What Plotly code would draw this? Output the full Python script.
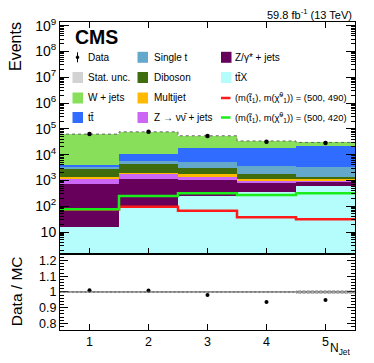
import numpy as np
import plotly.graph_objects as go
from plotly.subplots import make_subplots

# --- values ---
njet = [1, 2, 3, 4, 5]
data = [63000, 77000, 52600, 31600, 28200]

ttx = [16, 89, 240, 363, 620]
zgamma = [691, 1011, 795, 487, 270]
znunu = [493, 680, 445, 130, 120]
multijet = [190, 220, 240, 150, 90]
diboson = [1460, 2170, 1380, 610, 290]
single_t = [460, 1430, 2170, 1990, 2010]
ttbar = [760, 4900, 12030, 14870, 18700]
wjets = [58230, 65800, 36330, 15160, 7600]

sig_490 = [74, 96, 66, 37, 31]
sig_420 = [76, 248, 317, 270, 317]

stat_unc = [0.006, 0.006, 0.006, 0.006, 0.012]

ytick_vals = [10, 1e2, 1e3, 1e4, 1e5, 1e6, 1e7, 1e8, 1e9]
ytick_text = ["10", "10<sup>2</sup>", "10<sup>3</sup>", "10<sup>4</sup>", "10<sup>5</sup>",
              "10<sup>6</sup>", "10<sup>7</sup>", "10<sup>8</sup>", "10<sup>9</sup>"]
rtick_vals = [0.8, 0.9, 1.0, 1.1, 1.2]
rtick_text = ["0.8", "0.9", "1", "1.1", "1.2"]

FONT = "Liberation Sans, Arial, Helvetica, sans-serif"

stack = [
    ("ttX", ttx, "#b5fcfc"),
    ("Z/gamma", zgamma, "#67005a"),
    ("Znunu", znunu, "#cc66f5"),
    ("Multijet", multijet, "#ffba00"),
    ("Diboson", diboson, "#3f6d0e"),
    ("Single t", single_t, "#64a8cc"),
    ("ttbar", ttbar, "#2f6cff"),
    ("W+jets", wjets, "#88e05a"),
]

total = np.sum([s[1] for s in stack], axis=0)
ratio = np.array(data) / total
edges = [n - 0.5 for n in njet] + [njet[-1] + 0.5]

def step(vals):
    return list(vals) + [vals[-1]]

fig = make_subplots(rows=2, cols=1, shared_xaxes=True, vertical_spacing=0,
                    row_heights=[0.753, 0.247])

for name, vals, col in stack:
    fig.add_trace(go.Bar(x=njet, y=vals, width=1, marker_color=col,
                         marker_line_width=0, name=name, showlegend=False), row=1, col=1)

fig.add_trace(go.Scatter(x=edges, y=step(total), mode="lines", line_shape="hv",
                         line=dict(color="#666666", width=1, dash="dot"),
                         showlegend=False), row=1, col=1)

fig.add_trace(go.Scatter(x=edges, y=step(sig_490), mode="lines", line_shape="hv",
                         line=dict(color="#ff1a1a", width=2.5), showlegend=False), row=1, col=1)
fig.add_trace(go.Scatter(x=edges, y=step(sig_420), mode="lines", line_shape="hv",
                         line=dict(color="#1aee1a", width=2.5), showlegend=False), row=1, col=1)

fig.add_trace(go.Scatter(x=njet, y=data, mode="markers",
                         marker=dict(color="black", size=4.5),
                         error_y=dict(type="data", array=np.sqrt(data), color="black",
                                      thickness=1, width=0),
                         showlegend=False), row=1, col=1)

# ratio panel
unc = np.array(stat_unc)
fig.add_trace(go.Bar(x=njet, y=2 * unc, base=1 - unc, width=1,
                     marker=dict(color="rgba(0,0,0,0)", line_width=0,
                                 pattern=dict(shape="x", fgcolor="#9a9a9a", size=3, solidity=0.5)),
                     showlegend=False), row=2, col=1)
fig.add_shape(type="line", xref="x2 domain", yref="y2", x0=0, x1=1, y0=1, y1=1,
              line=dict(color="#555555", width=1))
fig.add_trace(go.Scatter(x=njet, y=ratio, mode="markers",
                         marker=dict(color="black", size=4),
                         showlegend=False), row=2, col=1)

minor_log = [m * 10 ** e for e in range(0, 10) for m in range(2, 10)]

fig.update_layout(
    template="none",
    width=374, height=363, barmode="stack", bargap=0,
    margin=dict(l=60, r=19, t=22, b=33, autoexpand=False),
    plot_bgcolor="white", paper_bgcolor="white",
    font=dict(family=FONT, color="black"),
)

axis_common = dict(showline=True, linecolor="black", linewidth=1, ticks="inside",
                   tickcolor="black", showgrid=False, zeroline=False, automargin=False)

fig.update_xaxes(range=[0.5, 5.5], tickvals=njet, ticklen=6, **axis_common)
fig.update_xaxes(mirror="allticks", showticklabels=False, row=1, col=1)
fig.update_xaxes(mirror=True, tickfont=dict(size=12.5), row=2, col=1)

fig.update_yaxes(type="log", range=[0.15, 9.14], tickvals=ytick_vals, ticktext=ytick_text,
                 ticklen=9, mirror="allticks", tickfont=dict(size=14),
                 minor=dict(tickmode="array", tickvals=minor_log, ticks="inside",
                            ticklen=4, tickcolor="black"),
                 row=1, col=1, **axis_common)
fig.update_yaxes(range=[0.758, 1.242], tickvals=rtick_vals, ticktext=rtick_text,
                 ticklen=8, mirror="allticks", tickfont=dict(size=12.5),
                 minor=dict(tickmode="linear", tick0=0.8, dtick=0.02, ticks="inside",
                            ticklen=4, tickcolor="black"),
                 row=2, col=1, **axis_common)

# pixel -> paper helpers for text and legend placement
def px(x):
    return (x - 60) / 295

def py(y):
    return 1 - (y - 22) / 308

ann = []
ann.append(dict(text="Events", x=px(15.5), y=py(20), xanchor="center", yanchor="top",
                textangle=-90, font=dict(size=16)))
ann.append(dict(text="Data / MC", x=px(16.5), y=py(291.7), xanchor="center", yanchor="middle",
                textangle=-90, font=dict(size=15.5)))
ann.append(dict(text="N<sub>Jet</sub>", x=px(353), y=py(348.5), xanchor="right", yanchor="middle",
                font=dict(size=12)))
ann.append(dict(text="<b>CMS</b>", x=px(73), y=py(37), xanchor="left", yanchor="middle",
                font=dict(size=19.5)))
ann.append(dict(text="59.8 fb<sup>-1</sup> (13 TeV)", x=px(354), y=py(14), xanchor="right",
                yanchor="middle", font=dict(size=11)))

shapes = []
rows = [57.3, 77.5, 98.0, 117.5]
cols = [(72.5, 86), (137.5, 151.5), (221, 233)]
sig_text = "(m(t\u0303<sub>1</sub>), m(\u03c7\u0303<sup>0</sup><sub>1</sub>)) = (500, {})"
legend_items = [
    (0, 0, "Data", "data", None),
    (0, 1, "Stat. unc.", "box", "#d2d2d2"),
    (0, 2, "W + jets", "box", stack[7][2]),
    (0, 3, "tt\u0304", "box", stack[6][2]),
    (1, 0, "Single t", "box", stack[5][2]),
    (1, 1, "Diboson", "box", stack[4][2]),
    (1, 2, "Multijet", "box", stack[3][2]),
    (1, 3, "Z \u2192 \u03bd\u03bd\u0304 + jets", "box", stack[2][2]),
    (2, 0, "Z/\u03b3* + jets", "box", stack[1][2]),
    (2, 1, "tt\u0304X", "box", stack[0][2]),
    (2, 2, sig_text.format(490), "line", "#ff1a1a"),
    (2, 3, sig_text.format(420), "line", "#1aee1a"),
]
for c, r, label, kind, color in legend_items:
    x0, xt = cols[c]
    yc = rows[r]
    size = 10
    if kind == "box":
        shapes.append(dict(type="rect", xref="paper", yref="paper",
                           x0=px(x0), x1=px(x0 + 10.5), y0=py(yc - 5.5), y1=py(yc + 5.5),
                           fillcolor=color, line=dict(width=0)))
    elif kind == "line":
        size = 9.4
        shapes.append(dict(type="line", xref="paper", yref="paper",
                           x0=px(x0), x1=px(x0 + 9.5), y0=py(yc), y1=py(yc),
                           line=dict(color=color, width=2.5)))
    else:
        shapes.append(dict(type="line", xref="paper", yref="paper",
                           x0=px(77.5), x1=px(77.5), y0=py(yc - 5), y1=py(yc + 5),
                           line=dict(color="black", width=1)))
        shapes.append(dict(type="circle", xref="paper", yref="paper",
                           x0=px(76), x1=px(79), y0=py(yc - 1.5), y1=py(yc + 1.5),
                           fillcolor="black", line=dict(color="black", width=0.5)))
    ann.append(dict(text=label, x=px(xt), y=py(yc), xanchor="left", yanchor="middle",
                    font=dict(size=size)))

for a in ann:
    a.update(xref="paper", yref="paper", showarrow=False)

fig.update_layout(annotations=ann, shapes=list(fig.layout.shapes) + shapes)

# the page body has a default 8px margin; drop it so the figure sits at the window origin
fig.write_html("out.html", config={"displayModeBar": False},
               post_script="document.body.style.margin='0px';")
